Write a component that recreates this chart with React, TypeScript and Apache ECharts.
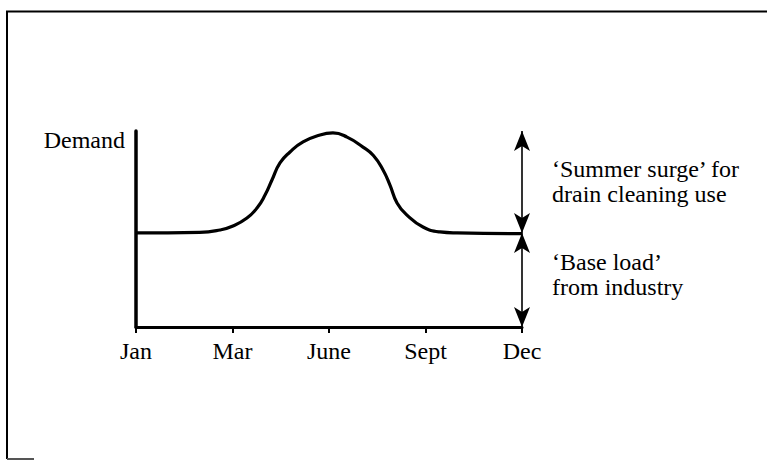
import React, { useEffect, useRef } from "react";
import * as echarts from "echarts";

const tickLabels = ["Jan", "Mar", "June", "Sept", "Dec"];
const monthPos = [
  0, 0.66, 0.87, 1.005, 1.15, 1.254, 1.337, 1.409, 1.492, 1.596, 1.731, 1.907, 2.041,
  2.187, 2.352, 2.46, 2.56, 2.632, 2.705, 2.808, 2.974, 3.15, 3.326, 4.0,
];
const demand = [
  48, 48.3, 49.5, 51.5, 55.6, 60.7, 67.3, 75, 83.7, 89.3, 94.4, 98, 99,
  96.9, 91.8, 87.5, 80.1, 72.4, 63.3, 57.1, 51, 48.5, 48, 47.6,
];
const baseLoad = 48;
const yMax = 100;
const yLabel = "Demand";
const surgeText = "‘Summer surge’ for\ndrain cleaning use";
const baseText = "‘Base load’\nfrom industry";

const FONT = "Liberation Serif";
const SIZE = 24;

export default function App() {
  const ref = useRef<HTMLDivElement>(null);
  useEffect(() => {
    if (!ref.current) return;
    const chart = echarts.init(ref.current, null, { renderer: "svg" });
    const data = monthPos.map((x, i) => [x, demand[i]]);
    const last = tickLabels.length - 1;
    const ts = {
      fontFamily: FONT,
      fontSize: SIZE,
      fontWeight: "normal",
      lineHeight: 25,
      color: "#000",
    };
    chart.setOption({
      animation: false,
      backgroundColor: "#ffffff",
      title: [
        { text: yLabel, right: 642, top: 127, padding: 0, textStyle: ts },
        { text: surgeText, left: 552, top: 156, padding: 0, textStyle: ts },
        { text: baseText, left: 552, top: 249, padding: 0, textStyle: ts },
      ],
      grid: { left: 136, right: 245, top: 131, bottom: 133 },
      xAxis: {
        type: "value",
        min: 0,
        max: last,
        interval: 1,
        splitLine: { show: false },
        axisLine: { show: true, lineStyle: { color: "#000", width: 3 } },
        axisTick: { show: true, length: 6, lineStyle: { color: "#000", width: 2 } },
        axisLabel: {
          margin: 12,
          color: "#000",
          fontFamily: FONT,
          fontSize: SIZE,
          formatter: (v: number) => tickLabels[Math.round(v)] ?? "",
        },
      },
      yAxis: {
        type: "value",
        min: 0,
        max: yMax,
        splitLine: { show: false },
        axisLine: { show: true, lineStyle: { color: "#000", width: 3.5 } },
        axisTick: { show: false },
        axisLabel: { show: false },
      },
      series: [
        {
          type: "line",
          data,
          smooth: 0.5,
          symbol: "none",
          lineStyle: { color: "#000", width: 3.2 },
          markLine: {
            silent: true,
            symbol: ["arrow", "arrow"],
            symbolSize: [12, 20],
            label: { show: false },
            lineStyle: { color: "#000", width: 1.6, type: "solid" },
            data: [
              [{ coord: [last, baseLoad] }, { coord: [last, yMax] }],
              [{ coord: [last, 0] }, { coord: [last, baseLoad] }],
            ],
          },
        },
      ],
      graphic: [
        {
          type: "polyline",
          silent: true,
          shape: { points: [[7, 459], [7, 11.5], [767, 11.5]] },
          style: { stroke: "#000", lineWidth: 2, fill: "none" },
        },
        {
          type: "line",
          silent: true,
          shape: { x1: 7, y1: 459, x2: 34, y2: 459 },
          style: { stroke: "#555", lineWidth: 2 },
        },
      ],
    });
    return () => chart.dispose();
  }, []);
  return (
    <div
      ref={ref}
      style={{ position: "fixed", left: 0, top: 0, width: 767, height: 460 }}
    />
  );
}
